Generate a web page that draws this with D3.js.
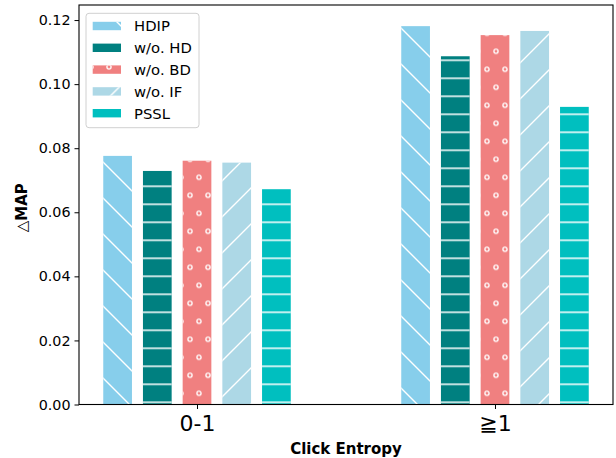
<!DOCTYPE html>
<html>
<head>
<meta charset="utf-8">
<script src="https://cdn.jsdelivr.net/npm/d3@7"></script>
<style>
  html, body { margin: 0; padding: 0; background: #fff; }
  svg { display: block; font-family: "DejaVu Sans", sans-serif; }
</style>
</head>
<body>
<svg id="chart" width="616" height="458"></svg>
<script>
// ---- data ----
const categories = ["0-1", "\u22671"];
const seriesNames = ["HDIP", "w/o. HD", "w/o. BD", "w/o. IF", "PSSL"];
const hdip   = [0.0776, 0.1181];
const woHD   = [0.0729, 0.1087];
const woBD   = [0.0761, 0.1153];
const woIF   = [0.0755, 0.1166];
const pssl   = [0.0672, 0.0929];
const yTicks = [0.00, 0.02, 0.04, 0.06, 0.08, 0.10, 0.12];
const seriesValues = [hdip, woHD, woBD, woIF, pssl];
const seriesColors = ["#87CEEB", "#008080", "#F08080", "#ADD8E6", "#00BFBF"];
const seriesHatch  = ["back", "horiz", "circle", "fwd", "horiz"];

(function () {
// ---- layout ----
const svg = d3.select("#chart");
const pL = 79, pR = 613, pT = 5, pB = 404.5;

const x = d3.scaleLinear().domain([-0.396, 1.396]).range([pL, pR]);
const inner = d3.scaleBand().domain(seriesNames).range([-93.75, 93.75]).paddingInner(0.277).paddingOuter(0);
const y = d3.scaleLinear().domain([0, 0.1247]).range([pB, pT]);

// ---- hatch patterns (anchored in page space) ----
const defs = svg.append("defs");
const hs = "#ffffff", hw = 1.4;
let p = defs.append("pattern").attr("id", "h-back").attr("patternUnits", "userSpaceOnUse")
  .attr("x", 0).attr("y", 23).attr("width", 36).attr("height", 36);
p.append("path").attr("d", "M-9,27 L9,45 M0,0 L36,36 M27,-9 L45,9")
  .attr("stroke", hs).attr("stroke-width", hw).attr("fill", "none");
p = defs.append("pattern").attr("id", "h-fwd").attr("patternUnits", "userSpaceOnUse")
  .attr("x", 0).attr("y", 7).attr("width", 36).attr("height", 36);
p.append("path").attr("d", "M-9,9 L9,-9 M0,36 L36,0 M27,45 L45,27")
  .attr("stroke", hs).attr("stroke-width", hw).attr("fill", "none");
p = defs.append("pattern").attr("id", "h-horiz").attr("patternUnits", "userSpaceOnUse")
  .attr("x", 0).attr("y", 6.3).attr("width", 18).attr("height", 18);
p.append("path").attr("d", "M-1,0 L19,0 M-1,18 L19,18")
  .attr("stroke", hs).attr("stroke-width", hw).attr("fill", "none");
p = defs.append("pattern").attr("id", "h-circle").attr("patternUnits", "userSpaceOnUse")
  .attr("x", 1).attr("y", 6.3).attr("width", 18).attr("height", 36);
[[9, 9], [9, 45], [0, 27], [18, 27], [0, -9], [18, -9]].forEach(([cx, cy]) => {
  p.append("circle").attr("cx", cx).attr("cy", cy).attr("r", 2.1)
    .attr("fill", "none").attr("stroke", hs).attr("stroke-width", 1.3);
});

// ---- bars ----
const data = [];
seriesNames.forEach((s, si) => {
  categories.forEach((c, ci) => {
    data.push({ s, si, ci, v: seriesValues[si][ci] });
  });
});

const bars = svg.append("g");
bars.selectAll("rect.fill").data(data).join("rect")
  .attr("class", "fill")
  .attr("x", d => x(d.ci) + inner(d.s))
  .attr("width", inner.bandwidth())
  .attr("y", d => y(d.v))
  .attr("height", d => y(0) - y(d.v))
  .attr("fill", d => seriesColors[d.si]);
bars.selectAll("rect.hatch").data(data).join("rect")
  .attr("class", "hatch")
  .attr("x", d => x(d.ci) + inner(d.s))
  .attr("width", inner.bandwidth())
  .attr("y", d => y(d.v))
  .attr("height", d => y(0) - y(d.v))
  .attr("fill", d => `url(#h-${seriesHatch[d.si]})`);

// ---- axes ----
const yAxis = d3.axisLeft(y).tickValues(yTicks).tickFormat(d3.format(".2f")).tickSize(4.5).tickPadding(4);
const gy = svg.append("g").attr("transform", `translate(${pL},0)`).call(yAxis);
gy.select(".domain").remove();
gy.selectAll("text").attr("font-size", "14.3px").attr("fill", "#000").attr("font-family", "DejaVu Sans");
gy.selectAll("line").attr("stroke", "#000").attr("stroke-width", 1);

const xAxis = d3.axisBottom(x).tickValues([0, 1]).tickFormat(i => categories[i]).tickSize(4.5).tickPadding(6);
const gx = svg.append("g").attr("transform", `translate(0,${pB})`).call(xAxis);
gx.select(".domain").remove();
gx.selectAll("text").attr("font-size", "22px").attr("fill", "#000").attr("font-family", "DejaVu Sans");
gx.selectAll("line").attr("stroke", "#000").attr("stroke-width", 1);

svg.append("rect").attr("x", pL).attr("y", pT).attr("width", pR - pL).attr("height", pB - pT)
  .attr("fill", "none").attr("stroke", "#000").attr("stroke-width", 1.1);

svg.append("text").attr("x", (pL + pR) / 2).attr("y", 454)
  .attr("text-anchor", "middle").attr("font-size", "15px").attr("font-weight", "bold")
  .text("Click Entropy");
const yl = svg.append("text").attr("transform", `translate(27,${(pT + pB) / 2 + 3}) rotate(-90)`)
  .attr("text-anchor", "middle").attr("font-size", "15px");
yl.append("tspan").attr("font-weight", "normal").text("\u25B3");
yl.append("tspan").attr("font-weight", "bold").text("MAP");

// ---- legend ----
const lg = svg.append("g");
lg.append("rect").attr("x", 86).attr("y", 13.3).attr("width", 113).attr("height", 114.4)
  .attr("rx", 3).attr("fill", "#fff").attr("fill-opacity", 0.8)
  .attr("stroke", "#d0d0d0").attr("stroke-width", 1);
const rows = lg.selectAll("g.row").data(seriesNames).join("g").attr("class", "row")
  .attr("transform", (d, i) => `translate(0,${26 + i * 21.8})`);
rows.append("rect").attr("x", 92.7).attr("y", -4.2).attr("width", 28.3).attr("height", 8.4)
  .attr("fill", (d, i) => seriesColors[i]);
rows.append("rect").attr("x", 92.7).attr("y", -4.2).attr("width", 28.3).attr("height", 8.4)
  .attr("fill", (d, i) => `url(#h-${seriesHatch[i]})`);
rows.append("text").attr("x", 134).attr("y", 5.4).attr("font-size", "14.8px").attr("fill", "#000")
  .text(d => d);
})();
</script>
</body>
</html>
